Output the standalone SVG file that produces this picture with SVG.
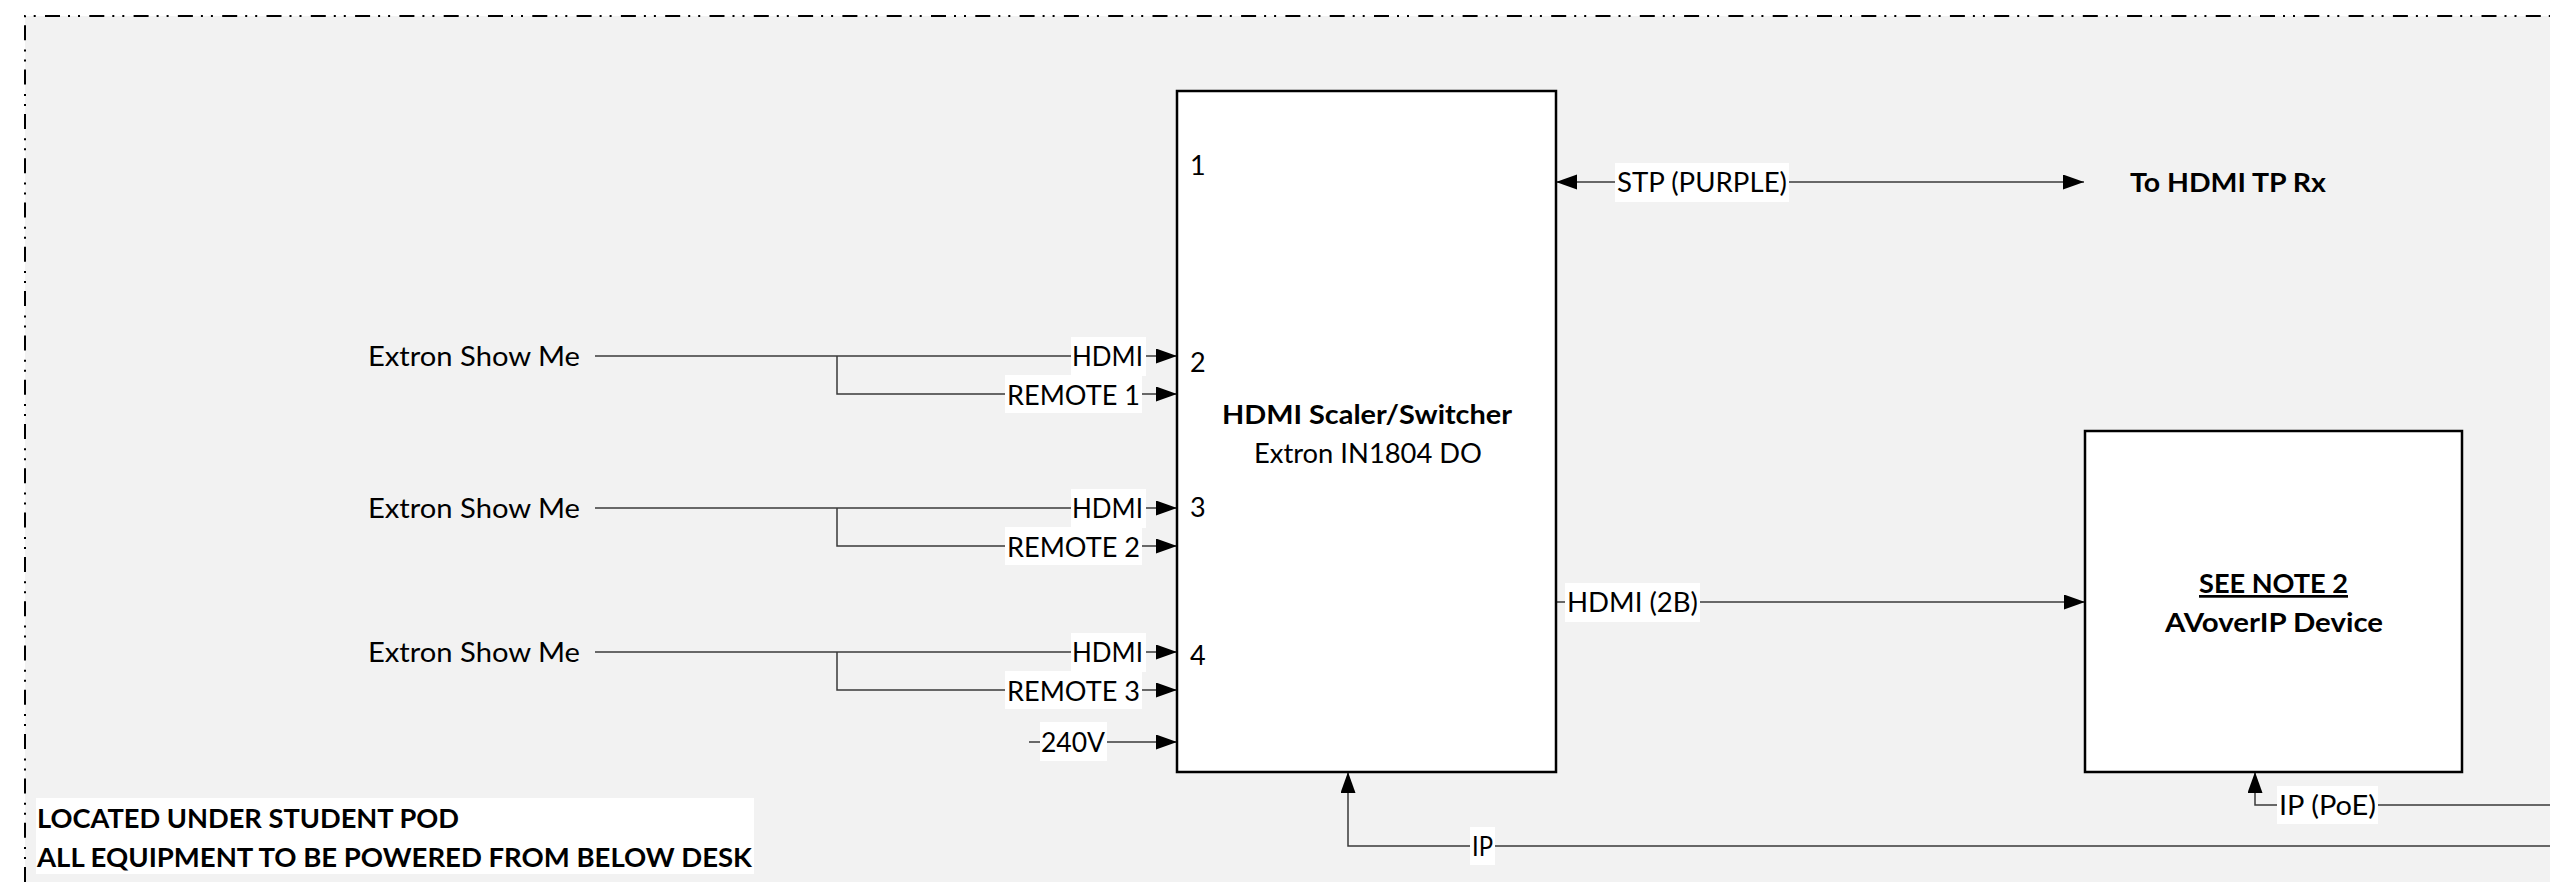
<svg xmlns="http://www.w3.org/2000/svg" width="2550" height="882" viewBox="0 0 2550 882">
<defs>
<marker id="arr" markerUnits="userSpaceOnUse" markerWidth="22" markerHeight="16" refX="21" refY="7.5" orient="auto-start-reverse" viewBox="0 0 22 16">
<path d="M0,0 L21,7.5 L0,15 z" fill="#000"/>
</marker>
<style>
.t{font-family:Lato,"Open Sans","Liberation Sans",sans-serif;font-size:27px;fill:#000}
.b{font-weight:bold}
.box{fill:#fff;stroke:#000;stroke-width:2.5}
.con{fill:none;stroke:#3a3a3a;stroke-width:1.5}
.lbg{fill:#fff}
</style>
</defs>
<rect x="0" y="0" width="2550" height="882" fill="#fff"/>
<rect x="25" y="16" width="2525" height="866" fill="#f2f2f2"/>
<path d="M25,882 V16 H2550" fill="none" stroke="#000" stroke-width="2" stroke-dasharray="15 8 2 8 2 9.3"/>

<g id="connectors">
<path class="con" d="M595,356 H1177" marker-end="url(#arr)"/>
<path class="con" d="M837,356 V394 H1177" marker-end="url(#arr)"/>
<path class="con" d="M595,508 H1177" marker-end="url(#arr)"/>
<path class="con" d="M837,508 V546 H1177" marker-end="url(#arr)"/>
<path class="con" d="M595,652 H1177" marker-end="url(#arr)"/>
<path class="con" d="M837,652 V690 H1177" marker-end="url(#arr)"/>
<path class="con" d="M1029,742 H1177" marker-end="url(#arr)"/>
<path class="con" d="M1556,182 H2084" marker-start="url(#arr)" marker-end="url(#arr)"/>
<path class="con" d="M1556,602 H2085" marker-end="url(#arr)"/>
<path class="con" d="M2550,846 H1348 V772" marker-end="url(#arr)"/>
<path class="con" d="M2550,805 H2255 V772" marker-end="url(#arr)"/>

<rect class="lbg" x="1071" y="337" width="75" height="39"/>
<text class="t" x="1072" y="366" textLength="71" lengthAdjust="spacingAndGlyphs">HDMI</text>
<rect class="lbg" x="1005" y="375" width="137" height="38"/>
<text class="t" x="1007" y="405" textLength="133" lengthAdjust="spacingAndGlyphs">REMOTE 1</text>
<rect class="lbg" x="1071" y="489" width="75" height="39"/>
<text class="t" x="1072" y="518" textLength="71" lengthAdjust="spacingAndGlyphs">HDMI</text>
<rect class="lbg" x="1005" y="527" width="137" height="38"/>
<text class="t" x="1007" y="557" textLength="133" lengthAdjust="spacingAndGlyphs">REMOTE 2</text>
<rect class="lbg" x="1071" y="633" width="75" height="39"/>
<text class="t" x="1072" y="662" textLength="71" lengthAdjust="spacingAndGlyphs">HDMI</text>
<rect class="lbg" x="1005" y="671" width="137" height="38"/>
<text class="t" x="1007" y="701" textLength="133" lengthAdjust="spacingAndGlyphs">REMOTE 3</text>
<rect class="lbg" x="1040" y="722" width="67" height="39"/>
<text class="t" x="1041" y="752" textLength="64" lengthAdjust="spacingAndGlyphs">240V</text>
<rect class="lbg" x="1615" y="163" width="174" height="39"/>
<text class="t" x="1617" y="192" textLength="170" lengthAdjust="spacingAndGlyphs">STP (PURPLE)</text>
<rect class="lbg" x="1565" y="583" width="135" height="39"/>
<text class="t" x="1567" y="612" textLength="131" lengthAdjust="spacingAndGlyphs">HDMI (2B)</text>
<rect class="lbg" x="1470" y="827" width="25" height="38"/>
<text class="t" x="1472" y="856" textLength="21" lengthAdjust="spacingAndGlyphs">IP</text>
<rect class="lbg" x="2277" y="786" width="101" height="38"/>
<text class="t" x="2279" y="815" textLength="97" lengthAdjust="spacingAndGlyphs">IP (PoE)</text>
</g>

<g id="src1"><text class="t" x="368" y="366" textLength="212" lengthAdjust="spacingAndGlyphs">Extron Show Me</text></g>
<g id="src2"><text class="t" x="368" y="518" textLength="212" lengthAdjust="spacingAndGlyphs">Extron Show Me</text></g>
<g id="src3"><text class="t" x="368" y="662" textLength="212" lengthAdjust="spacingAndGlyphs">Extron Show Me</text></g>

<g id="scaler">
<rect class="box" x="1177" y="91" width="379" height="681"/>
<text class="t" x="1190" y="175">1</text>
<text class="t" x="1190" y="372">2</text>
<text class="t" x="1190" y="517">3</text>
<text class="t" x="1190" y="665">4</text>
<text class="t b" x="1222" y="424" textLength="290" lengthAdjust="spacingAndGlyphs">HDMI Scaler/Switcher</text>
<text class="t" x="1254" y="463" textLength="228" lengthAdjust="spacingAndGlyphs">Extron IN1804 DO</text>
</g>

<g id="to-hdmi-tp-rx"><text class="t b" x="2130" y="192" textLength="196" lengthAdjust="spacingAndGlyphs">To HDMI TP Rx</text></g>

<g id="avoip">
<rect class="box" x="2085" y="431" width="377" height="341"/>
<text class="t b" x="2199" y="593" textLength="149" lengthAdjust="spacingAndGlyphs" text-decoration="underline">SEE NOTE 2</text>
<text class="t b" x="2165" y="632" textLength="218" lengthAdjust="spacingAndGlyphs">AVoverIP Device</text>
</g>

<g id="notes">
<rect x="36" y="798" width="718" height="76" fill="#fff"/>
<text class="t b" x="37" y="828" textLength="422" lengthAdjust="spacingAndGlyphs">LOCATED UNDER STUDENT POD</text>
<text class="t b" x="37" y="867" textLength="715" lengthAdjust="spacingAndGlyphs">ALL EQUIPMENT TO BE POWERED FROM BELOW DESK</text>
</g>
</svg>
